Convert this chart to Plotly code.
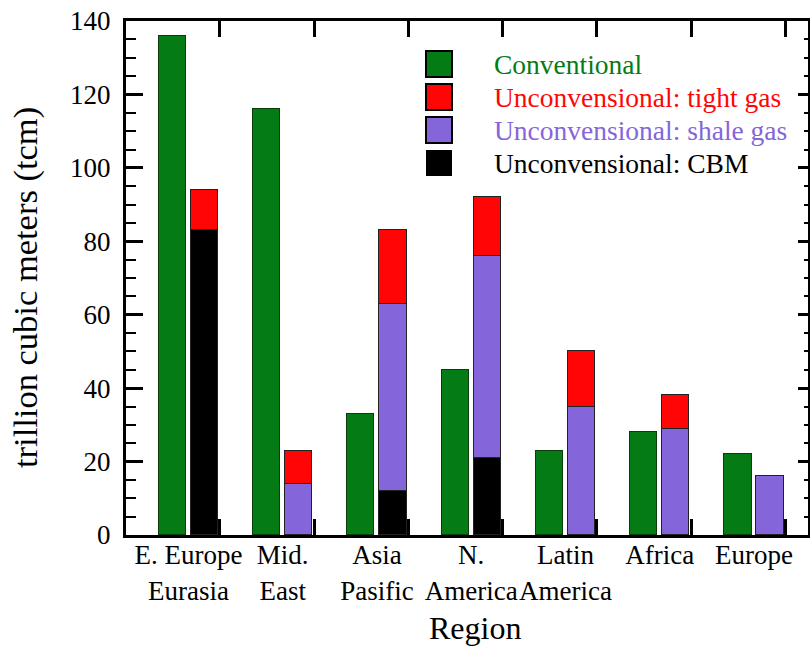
import plotly.graph_objects as go
import numpy as np

# Natural gas resources by region, trillion cubic meters
regions = ["E. Europe<br>Eurasia", "Mid.<br>East", "Asia<br>Pasific", "N.<br>America",
           "Latin<br>America", "Africa", "Europe"]
conventional = [136, 116, 33, 45, 23, 28, 22]
cbm = [83, None, 12, 21, None, None, None]
shale = [None, 14, 51, 55, 35, 29, 16]
tight = [11, 9, 20, 16, 15, 9, None]

series_names = ["Conventional", "Unconvensional: tight gas",
                "Unconvensional: shale gas", "Unconvensional: CBM"]

GREEN = "#047B14"
RED = "#FF0505"
PURPLE = "#8466DA"
BLACK = "#000000"
FONT = "Times New Roman, Liberation Serif, Times, serif"

idx = np.arange(len(regions))
shift = 0.17
width = 0.287

fig = go.Figure()
fig.add_trace(go.Bar(x=idx - shift, y=conventional, width=width, marker_color=GREEN,
                     marker_line=dict(color="#0b3d0b", width=1), name=series_names[0],
                     showlegend=False))
for vals, col, nm in [(cbm, BLACK, series_names[3]),
                      (shale, PURPLE, series_names[2]),
                      (tight, RED, series_names[1])]:
    fig.add_trace(go.Bar(x=idx + shift, y=vals, width=width, marker_color=col,
                         marker_line=dict(color="#222222", width=1), name=nm,
                         showlegend=False))

# empty trace carrying the secondary (tick-only) axes
fig.add_trace(go.Scatter(x=[], y=[], xaxis="x2", yaxis="y2", showlegend=False))

W, H = 810, 647
L, R, T, B = 126, 2, 21, 112
pw, ph = W - L - R, H - T - B


def px(xp):
    return (xp - L) / pw


def py(yp):
    return (H - B - yp) / ph


xr = [-0.663, 6.573]
yr = [0, 140]

shapes = []
annotations = []
legend_cols = [GREEN, RED, PURPLE, BLACK]
for k, (nm, col) in enumerate(zip(series_names, legend_cols)):
    top = 51 + 33 * k
    shapes.append(dict(type="rect", xref="paper", yref="paper",
                       x0=px(426), x1=px(452), y0=py(top + 26), y1=py(top),
                       fillcolor=col,
                       line=dict(color="black", width=2 if col != BLACK else 0)))
    annotations.append(dict(xref="paper", yref="paper", x=px(492), y=py(top + 13),
                            xanchor="left", yanchor="middle", showarrow=False,
                            text=nm, font=dict(family=FONT, size=27.5, color=col)))

annotations.append(dict(xref="paper", yref="paper", x=px(26), y=py(288), textangle=-90,
                        xanchor="center", yanchor="middle", showarrow=False,
                        text="trillion cubic meters (tcm)",
                        font=dict(family=FONT, size=34.5, color="black")))
annotations.append(dict(xref="paper", yref="paper", x=px(475), y=py(628),
                        xanchor="center", yanchor="middle", showarrow=False,
                        text="Region", font=dict(family=FONT, size=32, color="black")))

fig.update_layout(
    width=W, height=H,
    margin=dict(l=L, r=R, t=T, b=B, autoexpand=False),
    paper_bgcolor="white", plot_bgcolor="white",
    barmode="stack", bargap=0,
    font=dict(family=FONT, size=27, color="black"),
    xaxis=dict(range=xr, tickmode="array", tickvals=idx, ticktext=regions,
               ticks="", tickangle=0, automargin=False, showgrid=False,
               ticklabelstandoff=-6,
               zeroline=False, showline=True, linewidth=3, linecolor="black",
               mirror=True, tickfont=dict(family=FONT, size=27, color="black")),
    xaxis2=dict(range=xr, overlaying="x", anchor="y", tickmode="array",
                tickvals=idx + 1 / 3, ticks="inside", ticklen=16, tickwidth=3,
                tickcolor="black", mirror="ticks", showticklabels=False,
                showgrid=False, zeroline=False, showline=False),
    yaxis=dict(range=yr, tickmode="linear", tick0=0, dtick=20, ticks="inside",
               ticklen=17, tickwidth=3, tickcolor="black", automargin=False,
               minor=dict(ticks="inside", ticklen=10, tickwidth=2, dtick=5,
                          tickcolor="black"),
               showgrid=False, zeroline=False, showline=True, linewidth=3,
               linecolor="black", ticklabelstandoff=7,
               tickfont=dict(family=FONT, size=27, color="black")),
    yaxis2=dict(range=yr, overlaying="y", side="right", anchor="x",
                tickmode="linear", tick0=0, dtick=20, ticks="inside", ticklen=10,
                tickwidth=3, tickcolor="black",
                minor=dict(ticks="inside", ticklen=4, tickwidth=2, dtick=5,
                           tickcolor="black"),
                showticklabels=False, showgrid=False, zeroline=False,
                showline=True, linewidth=3, linecolor="black"),
    shapes=shapes,
    annotations=annotations,
    showlegend=False,
)

fig.write_html("out.html")
